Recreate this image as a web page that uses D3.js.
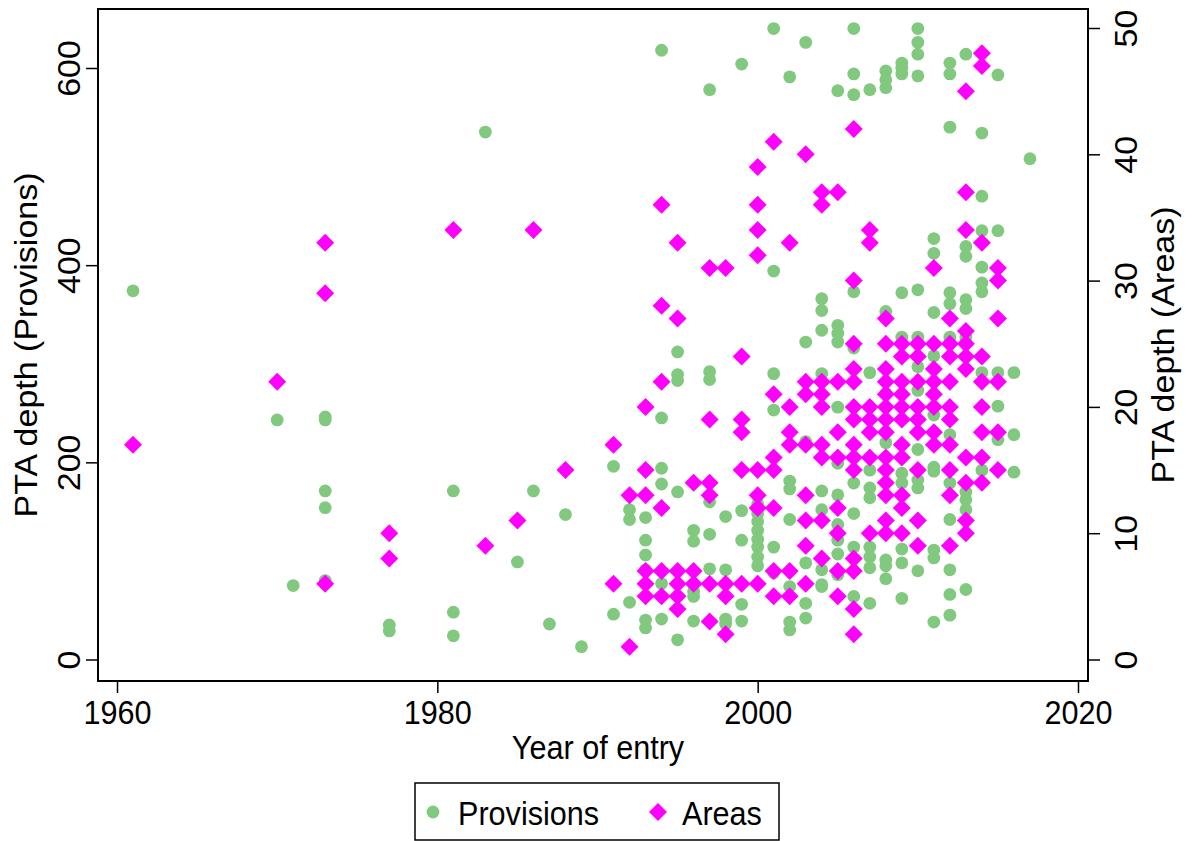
<!DOCTYPE html>
<html>
<head>
<meta charset="utf-8">
<script src="https://cdn.jsdelivr.net/npm/d3@7"></script>
<style>
  html, body { margin: 0; padding: 0; background: #fff; }
  svg { display: block; }
  text { font-family: "Liberation Sans", Arial, Helvetica, sans-serif; fill: #000; }
</style>
</head>
<body>
<svg id="chart" width="1190" height="841"></svg>
<script>
// ---------------- data ----------------
const xTicks = [1960, 1980, 2000, 2020];
const leftTicks = [0, 200, 400, 600];
const rightTicks = [0, 10, 20, 30, 40, 50];
const seriesNames = ["Provisions", "Areas"];
const xTitle = "Year of entry";
const yLeftTitle = "PTA depth (Provisions)";
const yRightTitle = "PTA depth (Areas)";

// PTA depth (Provisions): [year, [values...]]
const provisions = [
  [1961, [374]],
  [1970, [243]],
  [1971, [75]],
  [1973, [246, 243, 171, 154, 80]],
  [1977, [35, 29]],
  [1981, [171, 48, 24]],
  [1983, [535]],
  [1985, [99]],
  [1986, [171]],
  [1987, [36]],
  [1988, [147]],
  [1989, [13]],
  [1991, [196, 46]],
  [1992, [152, 142, 58]],
  [1993, [144, 121, 106, 91, 40, 32]],
  [1994, [618, 245, 194, 178, 77, 41]],
  [1995, [312, 289, 283, 170, 20]],
  [1996, [131, 120, 69, 64, 39]],
  [1997, [578, 292, 284, 160, 127, 92]],
  [1998, [145, 91, 41, 36]],
  [1999, [604, 151, 121, 56, 39]],
  [2000, [158, 148, 140, 131, 122, 114, 104, 95]],
  [2001, [640, 394, 290, 253, 114, 88]],
  [2002, [591, 181, 173, 142, 74, 38, 30]],
  [2003, [626, 322, 221, 98, 57, 42]],
  [2004, [366, 354, 334, 290, 171, 152, 91, 76, 74]],
  [2005, [577, 339, 331, 322, 256, 199, 167, 137, 121, 107, 86]],
  [2006, [640, 594, 573, 373, 316, 179, 148, 114, 64]],
  [2007, [578, 291, 192, 174, 164, 114, 104, 93, 57]],
  [2008, [597, 588, 580, 353, 270, 220, 101, 95, 82]],
  [2009, [605, 600, 594, 372, 327, 189, 179, 112, 98, 62]],
  [2010, [640, 626, 614, 592, 375, 327, 297, 273, 213, 182, 174, 90]],
  [2011, [427, 412, 352, 308, 248, 195, 191, 111, 103, 38]],
  [2012, [605, 594, 540, 372, 361, 327, 228, 179, 142, 91, 66, 45]],
  [2013, [614, 419, 409, 365, 356, 327, 170, 162, 152, 71]],
  [2014, [534, 470, 435, 398, 382, 373, 291, 192]],
  [2015, [593, 435, 291, 257, 223]],
  [2016, [291, 228, 190]],
  [2017, [508]]
];

// PTA depth (Areas): [year, [values...]]
const areas = [
  [1961, [17]],
  [1970, [22]],
  [1973, [33, 29, 6]],
  [1977, [10, 8]],
  [1981, [34]],
  [1983, [9]],
  [1985, [11]],
  [1986, [34]],
  [1988, [15]],
  [1991, [17, 6]],
  [1992, [13, 1]],
  [1993, [20, 15, 13, 7, 6, 5]],
  [1994, [36, 28, 22, 12, 7, 5]],
  [1995, [33, 27, 7, 6, 5, 4]],
  [1996, [14, 7, 6]],
  [1997, [31, 19, 14, 13, 6, 3]],
  [1998, [31, 6, 5, 2]],
  [1999, [24, 19, 18, 15, 6]],
  [2000, [39, 36, 34, 32, 15, 13, 12, 6]],
  [2001, [41, 21, 16, 15, 12, 7, 5]],
  [2002, [33, 20, 18, 17, 7, 5]],
  [2003, [40, 22, 21, 17, 13, 11, 9, 6]],
  [2004, [37, 36, 22, 21, 20, 17, 16, 11, 8]],
  [2005, [37, 22, 18, 16, 12, 10, 7, 5]],
  [2006, [42, 30, 25, 23, 22, 20, 19, 17, 16, 15, 8, 7, 4, 2]],
  [2007, [34, 33, 20, 19, 18, 16, 10]],
  [2008, [27, 25, 23, 22, 21, 20, 19, 18, 16, 15, 14, 13, 11, 10]],
  [2009, [25, 24, 22, 21, 20, 19, 17, 16, 13, 12, 10]],
  [2010, [25, 24, 22, 20, 19, 18, 15, 11, 9]],
  [2011, [31, 25, 23, 22, 21, 20, 18, 17]],
  [2012, [27, 25, 24, 22, 20, 19, 17, 15, 13, 9]],
  [2013, [45, 37, 34, 26, 25, 24, 23, 16, 14, 11, 10]],
  [2014, [48, 47, 33, 24, 22, 20, 18, 16, 14]],
  [2015, [31, 30, 27, 22, 18, 15]]
];

// ---------------- chart ----------------
const svg = d3.select("#chart");
const frame = { left: 98, right: 1088, top: 9, bottom: 681 };
const FONT = 34;        // glyph height
const SQ = 0.9;         // horizontal condensing of glyphs
const green = "#80c97f";
const magenta = "#ff00ff";

const x = d3.scaleLinear().domain([1960, 2020]).range([117, 1078]);
const yL = d3.scaleLinear().domain([0, 600]).range([659.5, 68]);
const yR = d3.scaleLinear().domain([0, 50]).range([659.5, 28]);

const flat = arr => arr.flatMap(([yr, vals]) => vals.map(v => ({ year: yr, value: v })));
const provPts = flat(provisions);
const areaPts = flat(areas);

// points: provisions first, areas on top
svg.append("g").selectAll("circle").data(provPts).join("circle")
  .attr("cx", d => x(d.year)).attr("cy", d => yL(d.value))
  .attr("r", 6.4).attr("fill", green);

const diamond = d3.symbol().type(d3.symbolSquare).size(162);
svg.append("g").selectAll("path").data(areaPts).join("path")
  .attr("d", diamond)
  .attr("transform", d => `translate(${x(d.year)},${yR(d.value)}) rotate(45)`)
  .attr("fill", magenta);

// frame
svg.append("rect")
  .attr("x", frame.left).attr("y", frame.top)
  .attr("width", frame.right - frame.left).attr("height", frame.bottom - frame.top)
  .attr("fill", "none").attr("stroke", "#000").attr("stroke-width", 2);

function styleAxis(g) {
  g.select(".domain").remove();
  g.selectAll(".tick line").attr("stroke", "#000").attr("stroke-width", 1.5);
  g.selectAll(".tick text").attr("font-size", FONT).attr("font-family", null).attr("fill", "#000")
    .attr("x", 0).attr("y", 0).attr("dy", 0);
}

// bottom axis
const gx = svg.append("g").attr("transform", `translate(0,${frame.bottom})`)
  .call(d3.axisBottom(x).tickValues(xTicks).tickFormat(d3.format("d")).tickSize(12));
styleAxis(gx);
gx.selectAll(".tick text").attr("transform", `translate(0,43) scale(${SQ},1)`);

// left axis
const gl = svg.append("g").attr("transform", `translate(${frame.left},0)`)
  .call(d3.axisLeft(yL).tickValues(leftTicks).tickSize(12));
styleAxis(gl);
gl.selectAll(".tick text").attr("text-anchor", "middle")
  .attr("transform", `translate(-18,0) rotate(-90) scale(1,${SQ})`);

// right axis
const gr = svg.append("g").attr("transform", `translate(${frame.right},0)`)
  .call(d3.axisRight(yR).tickValues(rightTicks).tickSize(12));
styleAxis(gr);
gr.selectAll(".tick text").attr("text-anchor", "middle")
  .attr("transform", `translate(49,0) rotate(-90) scale(1,${SQ})`);

// axis titles
svg.append("text").attr("transform", `translate(598,759) scale(${SQ},1)`)
  .attr("text-anchor", "middle").attr("font-size", FONT).text(xTitle);
svg.append("text").attr("transform", `translate(37,345) rotate(-90) scale(1,${SQ})`)
  .attr("text-anchor", "middle").attr("font-size", FONT).text(yLeftTitle);
svg.append("text").attr("transform", `translate(1174,345) rotate(-90) scale(1,${SQ})`)
  .attr("text-anchor", "middle").attr("font-size", FONT).text(yRightTitle);

// legend
const lg = svg.append("g");
lg.append("rect").attr("x", 415).attr("y", 783).attr("width", 364).attr("height", 57)
  .attr("fill", "#fff").attr("stroke", "#000").attr("stroke-width", 1.5);
lg.append("circle").attr("cx", 433).attr("cy", 812).attr("r", 6.4).attr("fill", green);
lg.append("text").attr("transform", `translate(458,825) scale(${SQ},1)`)
  .attr("font-size", FONT).text(seriesNames[0]);
lg.append("path").attr("d", diamond).attr("transform", "translate(658,812) rotate(45)").attr("fill", magenta);
lg.append("text").attr("transform", `translate(682,825) scale(${SQ},1)`)
  .attr("font-size", FONT).text(seriesNames[1]);
</script>
</body>
</html>
